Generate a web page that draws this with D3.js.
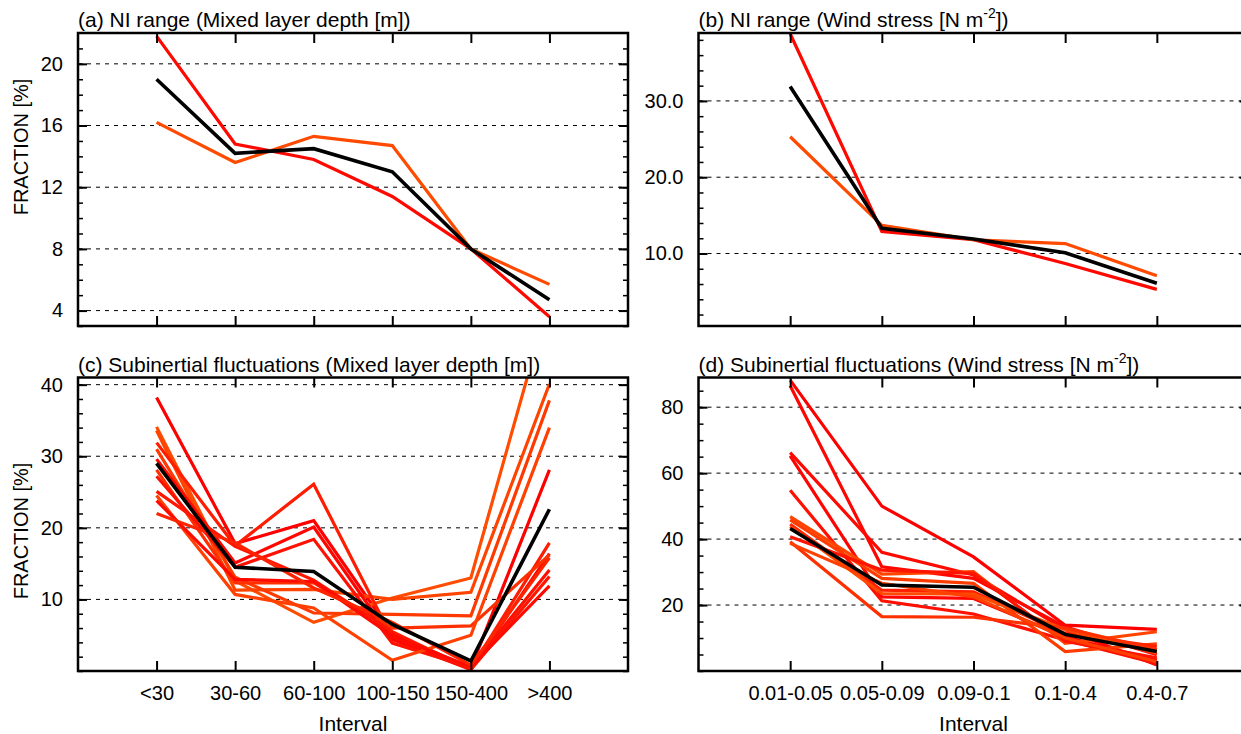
<!DOCTYPE html>
<html>
<head>
<meta charset="utf-8">
<script src="https://cdn.jsdelivr.net/npm/d3@7"></script>
<style>
  body { margin: 0; background: #fff; }
  svg { display: block; }
</style>
</head>
<body>
<script>
'use strict';

// categories
var mldIntervals = ["<30", "30-60", "60-100", "100-150", "150-400", ">400"];
var windIntervals = ["0.01-0.05", "0.05-0.09", "0.09-0.1", "0.1-0.4", "0.4-0.7"];

// (a) NI range vs mixed layer depth
var niMldRuns = [
  [21.8, 14.8, 13.8, 11.4, 8.0, 3.6],
  [16.2, 13.6, 15.3, 14.7, 8.0, 5.7]
];
var niMldMean = [19.0, 14.2, 14.5, 13.0, 8.0, 4.7];

// (b) NI range vs wind stress
var niWindRuns = [
  [38.8, 12.9, 11.8, 8.7, 5.3],
  [25.3, 13.7, 11.8, 11.3, 7.1]
];
var niWindMean = [31.9, 13.3, 11.9, 10.1, 6.1];

// (c) subinertial vs mixed layer depth
var subMldRuns = [
  [38.2, 17.8, 21.0, 5.2, 0.4, 28.1],
  [34.1, 12.6, 6.8, 10.2, 13.0, 52.0],
  [33.6, 11.3, 11.4, 10.0, 11.0, 40.1],
  [31.9, 17.5, 26.1, 4.6, 0.3, 17.9],
  [31.0, 13.1, 8.1, 7.9, 7.7, 37.8],
  [29.6, 15.1, 20.1, 4.4, 0.2, 16.4],
  [28.1, 12.3, 12.3, 6.0, 6.3, 16.2],
  [27.2, 14.5, 18.4, 3.9, 0.5, 14.1],
  [25.1, 17.4, 12.7, 5.5, 0.2, 13.2],
  [24.5, 10.7, 8.8, 1.5, 5.0, 34.0],
  [23.8, 12.8, 12.5, 4.9, 0.6, 11.9],
  [22.0, 17.9, 11.6, 6.8, 0.8, 15.8]
];
var subMldMean = [29.0, 14.5, 13.9, 6.5, 1.4, 22.6];

// (d) subinertial vs wind stress
var subWindRuns = [
  [88.2, 50.0, 34.6, 13.9, 12.6],
  [86.5, 31.6, 28.1, 13.4, 4.9],
  [66.2, 36.0, 29.1, 12.6, 1.8],
  [65.2, 22.5, 22.0, 10.4, 3.3],
  [54.8, 21.3, 17.3, 9.4, 2.3],
  [46.8, 29.4, 30.1, 8.4, 11.9],
  [45.8, 28.1, 26.6, 5.9, 8.2],
  [44.5, 24.5, 24.0, 11.4, 7.4],
  [43.8, 23.5, 23.3, 12.6, 5.4],
  [40.7, 30.6, 29.6, 9.0, 4.0],
  [39.2, 16.5, 16.3, 13.0, 6.5],
  [38.7, 26.6, 22.5, 10.0, 2.8]
];
var subWindMean = [43.2, 26.1, 25.4, 11.1, 5.9];

// y tick labels
var ticksA = [4, 8, 12, 16, 20];
var ticksB = [10, 20, 30];
var ticksC = [10, 20, 30, 40];
var ticksD = [20, 40, 60, 80];

var font = "'Liberation Sans', Arial, Helvetica, sans-serif";
var pairColors = ["#ff0800", "#ff4a00"];
var mldColors = ["#ff0000", "#ff4c00", "#ff4400", "#ff1c00", "#ff3a00", "#ff0600",
                 "#ff3000", "#ff1000", "#ff1600", "#ff4000", "#ff0a00", "#ff2400"];
var windColors = ["#ff0000", "#ff0600", "#ff0a00", "#ff0400", "#ff1000", "#ff4400",
                  "#ff3c00", "#ff2000", "#ff4a00", "#ff1400", "#ff3000", "#ff4000"];

var svg = d3.select("body").append("svg")
  .attr("width", 1241)
  .attr("height", 734);

function drawPanel(o) {
  var g = svg.append("g");
  var x = d3.scalePoint().domain(o.cats).range([o.x0, o.x1]).padding(1);
  var y = d3.scaleLinear().domain(o.yDomain).range([o.y1, o.y0]);

  // dashed grid at major ticks
  g.append("g").selectAll("line")
    .data(o.ticks)
    .enter().append("line")
    .attr("x1", o.x0).attr("x2", o.x1)
    .attr("y1", function(d){ return y(d); })
    .attr("y2", function(d){ return y(d); })
    .attr("stroke", "#000")
    .attr("stroke-width", 1)
    .attr("stroke-dasharray", "4,5");

  svg.append("clipPath").attr("id", "clip" + o.id)
    .append("rect")
    .attr("x", o.x0).attr("y", o.y0)
    .attr("width", o.x1 - o.x0).attr("height", o.y1 - o.y0);

  var line = d3.line()
    .x(function(d, i){ return x(o.cats[i]); })
    .y(function(d){ return y(d); });

  var lines = g.append("g").attr("clip-path", "url(#clip" + o.id + ")");
  lines.selectAll("path.run")
    .data(o.runs)
    .enter().append("path")
    .attr("class", "run")
    .attr("d", line)
    .attr("fill", "none")
    .attr("stroke", function(d, i){ return o.colors[i]; })
    .attr("stroke-width", 3.2)
    .attr("stroke-linejoin", "miter");
  lines.append("path")
    .attr("d", line(o.mean))
    .attr("fill", "none")
    .attr("stroke", "#000")
    .attr("stroke-width", 3.6);

  // axes, ticks pointing inward
  var minor = d3.range(Math.ceil(o.yDomain[0] / o.minor) * o.minor, o.yDomain[1], o.minor);

  function styleAxis(sel, w) {
    sel.select(".domain").remove();
    sel.attr("font-family", font).attr("font-size", 20);
    sel.selectAll("line").attr("stroke", "#000").attr("stroke-width", w);
    sel.selectAll("text").attr("fill", "#000");
  }

  g.append("g").attr("transform", "translate(" + o.x0 + ",0)")
    .call(d3.axisLeft(y).tickValues(minor).tickSize(-5).tickFormat(""))
    .call(styleAxis, 1.5);
  g.append("g").attr("transform", "translate(" + o.x1 + ",0)")
    .call(d3.axisRight(y).tickValues(minor).tickSize(-5).tickFormat(""))
    .call(styleAxis, 1.5);
  g.append("g").attr("transform", "translate(" + o.x0 + ",0)")
    .call(d3.axisLeft(y).tickValues(o.ticks).tickSize(-9).tickPadding(15)
      .tickFormat(d3.format(o.fmt)))
    .call(styleAxis, 2);
  g.append("g").attr("transform", "translate(" + o.x1 + ",0)")
    .call(d3.axisRight(y).tickValues(o.ticks).tickSize(-9).tickFormat(""))
    .call(styleAxis, 2);
  g.append("g").attr("transform", "translate(0," + o.y0 + ")")
    .call(d3.axisTop(x).tickSize(-10).tickFormat(""))
    .call(styleAxis, 2);
  var bottom = d3.axisBottom(x).tickSize(-10).tickPadding(15);
  if (!o.xLabels) bottom.tickFormat("");
  g.append("g").attr("transform", "translate(0," + o.y1 + ")")
    .call(bottom)
    .call(styleAxis, 2);

  g.append("rect")
    .attr("x", o.x0).attr("y", o.y0)
    .attr("width", o.x1 - o.x0).attr("height", o.y1 - o.y0)
    .attr("fill", "none")
    .attr("stroke", "#000")
    .attr("stroke-width", 2.5);

  // title
  var t = g.append("text")
    .attr("x", o.x0).attr("y", o.y0 - 6)
    .attr("font-family", font).attr("font-size", 21).attr("fill", "#000");
  t.append("tspan").text(o.title);
  if (o.sup) {
    t.append("tspan").attr("dy", -9).attr("font-size", 14).text(o.sup);
    t.append("tspan").attr("dy", 9).text(o.titleEnd);
  }

  if (o.yLabel) {
    g.append("text")
      .attr("transform", "translate(28," + o.yLabelY + ") rotate(-90)")
      .attr("text-anchor", "middle")
      .attr("font-family", font).attr("font-size", 20).attr("fill", "#000")
      .text("FRACTION [%]");
  }
  if (o.xLabels) {
    g.append("text")
      .attr("x", (o.x0 + o.x1) / 2).attr("y", 731)
      .attr("text-anchor", "middle")
      .attr("font-family", font).attr("font-size", 21).attr("fill", "#000")
      .text("Interval");
  }
}

var colLeft = [78, 628], colRight = [698.5, 1248.5];
var rowTop = [33, 326], rowLow = [377.5, 671];

drawPanel({ id: "a", x0: colLeft[0], x1: colLeft[1], y0: rowTop[0], y1: rowTop[1],
  cats: mldIntervals, runs: niMldRuns, mean: niMldMean, colors: pairColors,
  yDomain: [3, 22], ticks: ticksA, minor: 1, fmt: "d",
  title: "(a) NI range (Mixed layer depth [m])", yLabel: true, yLabelY: 147 });

drawPanel({ id: "b", x0: colRight[0], x1: colRight[1], y0: rowTop[0], y1: rowTop[1],
  cats: windIntervals, runs: niWindRuns, mean: niWindMean, colors: pairColors,
  yDomain: [0.5, 38.9], ticks: ticksB, minor: 2, fmt: ".1f",
  title: "(b) NI range (Wind stress [N m", sup: "-2", titleEnd: "])" });

drawPanel({ id: "c", x0: colLeft[0], x1: colLeft[1], y0: rowLow[0], y1: rowLow[1],
  cats: mldIntervals, runs: subMldRuns, mean: subMldMean, colors: mldColors,
  yDomain: [0, 41], ticks: ticksC, minor: 2, fmt: "d",
  title: "(c) Subinertial fluctuations (Mixed layer depth [m])",
  yLabel: true, yLabelY: 531, xLabels: true });

drawPanel({ id: "d", x0: colRight[0], x1: colRight[1], y0: rowLow[0], y1: rowLow[1],
  cats: windIntervals, runs: subWindRuns, mean: subWindMean, colors: windColors,
  yDomain: [0, 89], ticks: ticksD, minor: 5, fmt: "d",
  title: "(d) Subinertial fluctuations (Wind stress [N m", sup: "-2", titleEnd: "])",
  xLabels: true });
</script>
</body>
</html>
